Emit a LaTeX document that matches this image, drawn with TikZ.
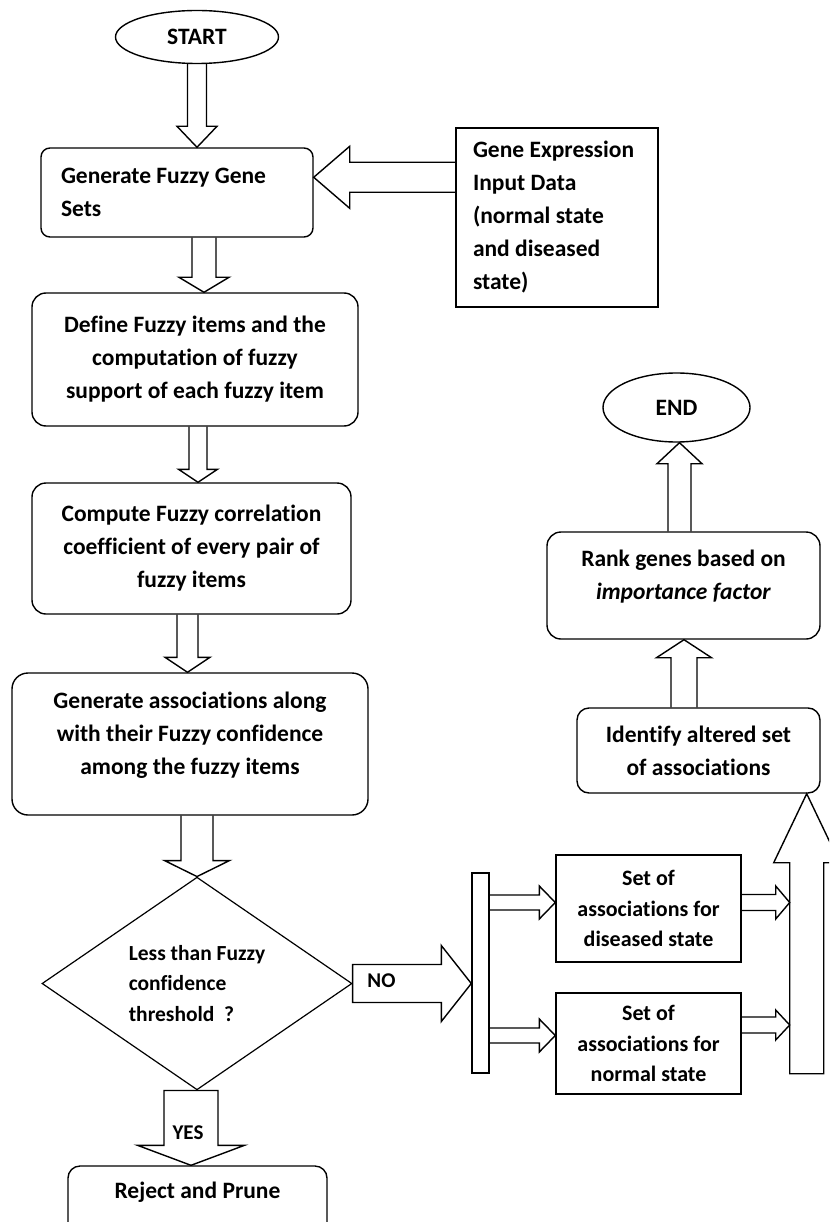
\documentclass[tikz,border=0pt]{standalone}
\usepackage{fontspec}
\setmainfont{Carlito}[Ligatures=NoCommon]
\usetikzlibrary{shapes.geometric,calc}
\newcommand{\blkarr}[6]{%
  \path ($(#2)!#5!(#1)$) coordinate (bA);
  \draw[blk] ($(#1)!#3!90:(#2)$) -- ($(bA)!#3!90:(#2)$) -- ($(bA)!#4!90:(#2)$) -- (#2) -- ($(bA)!#4!-90:(#2)$) -- ($(bA)!#3!-90:(#2)$) -- ($(#1)!#3!-90:(#2)$) #6;
}
\tikzset{
  txt/.style={font=\bfseries\fontsize{23.5}{33}\selectfont, align=center, inner sep=0pt},
  smalltxt/.style={font=\bfseries\fontsize{22}{30.5}\selectfont},
  rbox/.style={draw, line width=1.4pt, rounded corners=12pt, txt},
  sbox/.style={draw, line width=1.4pt, txt},
  blk/.style={draw, line width=1.4pt, line join=miter},
  oval/.style={draw, ellipse, line width=1.4pt, txt},
}
\begin{document}
\begin{tikzpicture}[x=1pt, y=-1pt]
\useasboundingbox (0,0) rectangle (829,1222);
\clip (0,0) rectangle (829,1222);
% nodes
\node[oval, minimum width=163pt, minimum height=53pt] (start) at (197,37) {START};
\node[rbox, rounded corners=9pt, minimum width=272pt, minimum height=89pt, text width=232pt, inner xsep=20pt, align=flush left] (gen) at (177,192.5) {Generate Fuzzy Gene\\Sets};
\node[sbox, minimum width=202pt, minimum height=179pt, text width=168pt, inner xsep=17pt, align=flush left] (input) at (557,217.5) {Gene Expression\\Input Data\\(normal state\\and diseased\\state)};
\node[rbox, rounded corners=14pt, minimum width=326pt, minimum height=133pt] (define) at (195,359.5) {Define Fuzzy items and the\\computation of fuzzy\\support of each fuzzy item};
\node[rbox, rounded corners=14pt, minimum width=319pt, minimum height=131pt] (compute) at (191.5,548.5) {Compute Fuzzy correlation\\coefficient of every pair of\\fuzzy items};
\node[rbox, rounded corners=16pt, minimum width=356pt, minimum height=142pt] (ga) at (190,744) {};
\node[txt] (gatext) at (190,735.5) {Generate associations along\\with their Fuzzy confidence\\among the fuzzy items};
\node[draw, diamond, line width=1.2pt, minimum width=310pt, minimum height=197pt, inner sep=0pt, font=\bfseries\fontsize{21.5}{30.5}\selectfont, align=left] (dec) at (197,983.5) {Less than Fuzzy\\confidence\\threshold~~?};
\node[rbox, rounded corners=12pt, minimum width=259pt, minimum height=120pt] (reject) at (197.5,1226) {};
\node[txt] (rejtext) at (197.5,1192) {Reject and Prune};
\node[draw, line width=1.4pt, minimum width=17pt, minimum height=200pt, inner sep=0pt] (bar) at (480.5,973) {};
\node[sbox, smalltxt, minimum width=185pt, minimum height=107pt] (dis) at (648.5,908.5) {Set of\\associations for\\diseased state};
\node[sbox, smalltxt, minimum width=185pt, minimum height=101pt] (nor) at (648.5,1043.5) {Set of\\associations for\\normal state};
\node[rbox, rounded corners=12pt, minimum width=243pt, minimum height=85pt] (ident) at (698.5,750.5) {Identify altered set\\of associations};
\node[rbox, rounded corners=14pt, minimum width=273pt, minimum height=107pt] (rank) at (683.5,585.5) {};
\node[txt] (ranktext) at (683.5,577) {Rank genes based on\\\textit{importance factor}};
\node[oval, minimum width=147pt, minimum height=69pt] (end) at (676.5,407.5) {END};
% coordinates for connectors
\coordinate (t1) at (start.south |- gen.north);
\coordinate (s2) at ($(input.north west)+(0,-50pt)$);
\coordinate (t2) at (gen.east |- s2);
\coordinate (s3) at ([xshift=27pt]gen.south);
\coordinate (t3) at (s3 |- define.north);
\coordinate (s4) at ([xshift=3pt]define.south);
\coordinate (t4) at (s4 |- compute.north);
\coordinate (s5) at ([xshift=-4pt]compute.south);
\coordinate (t5) at (s5 |- ga.north);
\coordinate (s6) at ([xshift=7pt]ga.south);
\coordinate (s7) at ([xshift=-6pt]dec.south);
\coordinate (t7) at (s7 |- reject.north);
\coordinate (t8) at (bar.west |- dec.east);
\coordinate (t9) at ($(dis.west)+(0,6pt)$);
\coordinate (s9) at (bar.east |- t9);
\coordinate (t10) at ($(nor.west)+(0,8pt)$);
\coordinate (s10) at (bar.east |- t10);
\coordinate (bigt) at ([xshift=-14pt]ident.south east);
\coordinate (bigb) at (bigt |- bar.south);
\coordinate (bigl) at ($(bigb)+(-17pt,0)$);
\coordinate (s11) at ($(dis.east)+(0,6pt)$);
\coordinate (t11) at (bigl |- s11);
\coordinate (s12) at ($(nor.east)+(0,18.5pt)$);
\coordinate (t12) at (bigl |- s12);
\coordinate (s14) at ([xshift=-14.5pt]ident.north);
\coordinate (t14) at (s14 |- rank.south);
\coordinate (s15) at ([xshift=-4pt]rank.north);
\coordinate (t15) at (s15 |- end.south);
% block arrows
\blkarr{start.south}{t1}{9.5pt}{20pt}{21pt}{}
\blkarr{s2}{t2}{15pt}{31pt}{36pt}{}
\blkarr{s3}{t3}{12pt}{25pt}{15pt}{}
\blkarr{s4}{t4}{9pt}{19.5pt}{13pt}{}
\blkarr{s5}{t5}{10.5pt}{22.5pt}{15pt}{}
\blkarr{s6}{dec.north}{16pt}{32.5pt}{16pt}{}
\blkarr{s7}{t7}{27pt}{53.5pt}{20pt}{-- cycle}
\blkarr{dec.east}{t8}{19pt}{38pt}{30pt}{-- cycle}
\blkarr{s9}{t9}{7.5pt}{16.5pt}{16pt}{}
\blkarr{s10}{t10}{7.5pt}{16.5pt}{16pt}{}
\blkarr{s11}{t11}{8pt}{16.5pt}{14pt}{}
\blkarr{s12}{t12}{8pt}{15pt}{14pt}{}
\blkarr{bigb}{bigt}{17pt}{33pt}{69pt}{-- cycle}
\blkarr{s14}{t14}{13pt}{27.5pt}{18pt}{}
\blkarr{s15}{t15}{11.5pt}{22.5pt}{21pt}{}
% labels
\node[txt, font=\bfseries\fontsize{21}{24}\selectfont] (nolab) at (381.5,981) {NO};
\node[txt, font=\bfseries\fontsize{21}{24}\selectfont] (yeslab) at (188,1133) {YES};
\end{tikzpicture}
\end{document}
